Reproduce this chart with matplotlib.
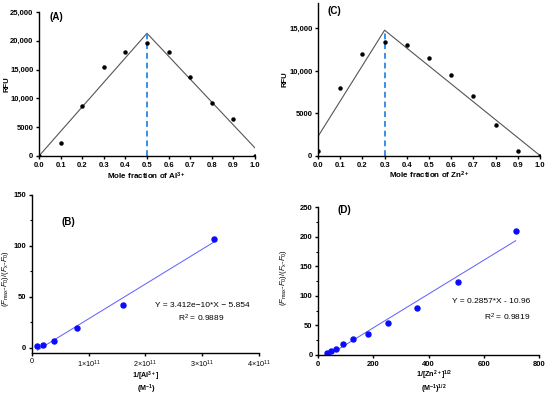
import numpy as np
import matplotlib.pyplot as plt
from matplotlib.ticker import AutoMinorLocator

plt.rcParams['font.family'] = ['Liberation Sans', 'DejaVu Sans']
plt.rcParams['mathtext.fontset'] = 'custom'
plt.rcParams['mathtext.rm'] = 'Liberation Sans'
plt.rcParams['mathtext.it'] = 'Liberation Sans:italic'
plt.rcParams['mathtext.bf'] = 'Liberation Sans:bold'

# (A) Job's plot, Al3+
frac = [0.0, 0.1, 0.2, 0.3, 0.4, 0.5, 0.6, 0.7, 0.8, 0.9, 1.0]
rfu_al = [0, 2300, 8600, 15500, 18000, 19700, 18000, 13700, 9200, 6350, 0]
al_line_x = [0.0, 0.5, 1.0]
al_line_y = [0, 21300, 1400]
al_peak = 0.5

# (C) Job's plot, Zn2+
rfu_zn = [550, 8050, 12000, 13400, 13000, 11500, 9550, 7000, 3600, 550, 0]
zn_line_x = [0.0, 0.3, 1.0]
zn_line_y = [2300, 14800, 50]
zn_peak = 0.3

# (B) Benesi-Hildebrand, Al3+
inv_al = [1e10, 2e10, 4e10, 8e10, 1.6e11, 3.2e11]
bh_al = [1.5, 3.0, 7.0, 19.0, 41.5, 107.0]
al_slope, al_icpt = 3.412e-10, -5.854

# (D) Benesi-Hildebrand, Zn2+
inv_zn = [31.6, 44.7, 63.2, 89.4, 126.5, 178.9, 253.0, 357.8, 506.0, 715.5]
bh_zn = [3.4, 6.2, 10.7, 19.0, 27.6, 36.0, 53.5, 79.0, 123.0, 210.5]
zn_slope, zn_icpt = 0.2857, -10.96

frac_ticks = [0.0, 0.1, 0.2, 0.3, 0.4, 0.5, 0.6, 0.7, 0.8, 0.9, 1.0]
a_yticks = [0, 5000, 10000, 15000, 20000, 25000]
a_ylabels = ['0', '5000', '10,000', '15,000', '20,000', '25,000']
c_yticks = [0, 5000, 10000, 15000]
c_ylabels = ['0', '5000', '10,000', '15,000']
b_xticks = [0, 1e11, 2e11, 3e11, 4e11]
b_xlabels = ['0', r'1$\times$10$^{11}$', r'2$\times$10$^{11}$', r'3$\times$10$^{11}$', r'4$\times$10$^{11}$']
b_yticks = [0, 50, 100, 150]
d_xticks = [0, 200, 400, 600, 800]
d_yticks = [0, 50, 100, 150, 200, 250]

fig = plt.figure(figsize=(5.5, 3.95), dpi=100)
axA = fig.add_axes([0.0709, 0.6051, 0.3927, 0.3646])
axC = fig.add_axes([0.5782, 0.6051, 0.4036, 0.3873])
axB = fig.add_axes([0.0576, 0.1068, 0.4133, 0.4003])
axD = fig.add_axes([0.5787, 0.1013, 0.4013, 0.3739])

for ax in [axA, axB, axC, axD]:
    ax.spines['top'].set_visible(False)
    ax.spines['right'].set_visible(False)
    ax.spines['left'].set_linewidth(1.0)
    ax.spines['bottom'].set_linewidth(1.0)
    ax.tick_params(direction='out', length=2.5, width=1.0, pad=1.5, labelsize=5.5)
    ax.tick_params(which='minor', direction='out', length=1.5, width=0.8)

ylab_fmax = r'$(\mathit{F}_{\rm max}$-$\mathit{F}_{\rm 0})/(\mathit{F}_{\rm x}$-$\mathit{F}_{\rm 0})$'

# panel A
axA.plot(al_line_x, al_line_y, color='#555555', lw=0.8)
axA.plot([al_peak, al_peak], [0, al_line_y[1]], color='#3a8ee6', lw=1.4, ls=(0, (3, 2)))
axA.plot(frac, rfu_al, 'o', color='black', ms=2.2)
axA.set_xlim(0, 1.0)
axA.set_ylim(0, 25000)
axA.set_xticks(frac_ticks)
axA.set_xticklabels([f'{v:.1f}' for v in frac_ticks], fontweight='bold')
axA.set_yticks(a_yticks)
axA.set_yticklabels(a_ylabels, fontweight='bold')
axA.set_ylabel('RFU', fontsize=5.5, fontweight='bold')
axA.yaxis.set_label_coords(-0.134, 0.5)
axA.text(0.5, -0.139, r'Mole fraction of Al$^{\mathbf{3+}}$', transform=axA.transAxes,
         ha='center', va='center', fontsize=5.8, fontweight='bold')
axA.text(0.05, 0.965, '(A)', transform=axA.transAxes, ha='left', va='center',
         fontsize=7, fontweight='bold')

# panel C
axC.plot(zn_line_x, zn_line_y, color='#555555', lw=0.8)
axC.plot([zn_peak, zn_peak], [0, zn_line_y[1]], color='#3a8ee6', lw=1.4, ls=(0, (3, 2)))
axC.plot(frac, rfu_zn, 'o', color='black', ms=2.2)
axC.set_xlim(0, 1.0)
axC.set_ylim(0, 18000)
axC.set_xticks(frac_ticks)
axC.set_xticklabels([f'{v:.1f}' for v in frac_ticks], fontweight='bold')
axC.set_yticks(c_yticks)
axC.set_yticklabels(c_ylabels, fontweight='bold')
axC.set_ylabel('RFU', fontsize=5.5, fontweight='bold')
axC.yaxis.set_label_coords(-0.135, 0.5)
axC.text(0.5, -0.124, r'Mole fraction of Zn$^{\mathbf{2+}}$', transform=axC.transAxes,
         ha='center', va='center', fontsize=5.8, fontweight='bold')
axC.text(0.045, 0.945, '(C)', transform=axC.transAxes, ha='left', va='center',
         fontsize=7, fontweight='bold')

# panel B
xb = np.array([inv_al[0], inv_al[-1]])
axB.plot(xb, al_slope * xb + al_icpt, color='#5c5cff', lw=0.7)
axB.plot(inv_al, bh_al, 'o', color='#0a0aff', ms=3.6)
axB.set_xlim(0, 4e11)
axB.set_ylim(-5, 150)
axB.set_xticks(b_xticks)
axB.set_xticklabels(b_xlabels, fontsize=5.2)
axB.set_yticks(b_yticks)
axB.set_yticklabels([str(v) for v in b_yticks], fontweight='bold')
axB.yaxis.set_minor_locator(AutoMinorLocator(2))
axB.set_ylabel(ylab_fmax, fontsize=5.5)
axB.yaxis.set_label_coords(-0.093, 0.47)
axB.text(0.503, -0.19, '1/[Al$^{\\mathbf{3+}}$]\n(M$^{\\mathbf{-1}}$)', transform=axB.transAxes,
         ha='center', va='center', fontsize=5.2, fontweight='bold', linespacing=1.05)
axB.text(0.133, 0.827, '(B)', transform=axB.transAxes, ha='left', va='center',
         fontsize=7, fontweight='bold')
axB.text(0.749, 0.298, 'Y = 3.412e\u221210*X \u2212 5.854', transform=axB.transAxes,
         ha='center', va='center', fontsize=6)
axB.text(0.745, 0.22, r'R$^2$ = 0.9889', transform=axB.transAxes,
         ha='center', va='center', fontsize=6)

# panel D
xd = np.array([inv_zn[0], inv_zn[-1]])
axD.plot(xd, zn_slope * xd + zn_icpt, color='#5c5cff', lw=0.7)
axD.plot(inv_zn, bh_zn, 'o', color='#0a0aff', ms=3.6)
axD.set_xlim(0, 800)
axD.set_ylim(0, 250)
axD.set_xticks(d_xticks)
axD.set_xticklabels([str(v) for v in d_xticks], fontweight='bold')
axD.set_yticks(d_yticks)
axD.set_yticklabels([str(v) for v in d_yticks], fontweight='bold')
axD.yaxis.set_minor_locator(AutoMinorLocator(2))
axD.set_ylabel(ylab_fmax, fontsize=5.5)
axD.yaxis.set_label_coords(-0.133, 0.525)
axD.text(0.524, -0.183,
         '1/[Zn$^{\\mathbf{2+}}$]$^{\\mathbf{1/2}}$\n(M$^{\\mathbf{-1}}$)$^{\\mathbf{1/2}}$',
         transform=axD.transAxes, ha='center', va='center', fontsize=5.2,
         fontweight='bold', linespacing=1.05)
axD.text(0.089, 0.982, '(D)', transform=axD.transAxes, ha='left', va='center',
         fontsize=7, fontweight='bold')
axD.text(0.959, 0.359, 'Y = 0.2857*X - 10.96', transform=axD.transAxes,
         ha='right', va='center', fontsize=6)
axD.text(0.959, 0.257, r'R$^2$ = 0.9819', transform=axD.transAxes,
         ha='right', va='center', fontsize=6)

fig.savefig('out.png', dpi=100)
